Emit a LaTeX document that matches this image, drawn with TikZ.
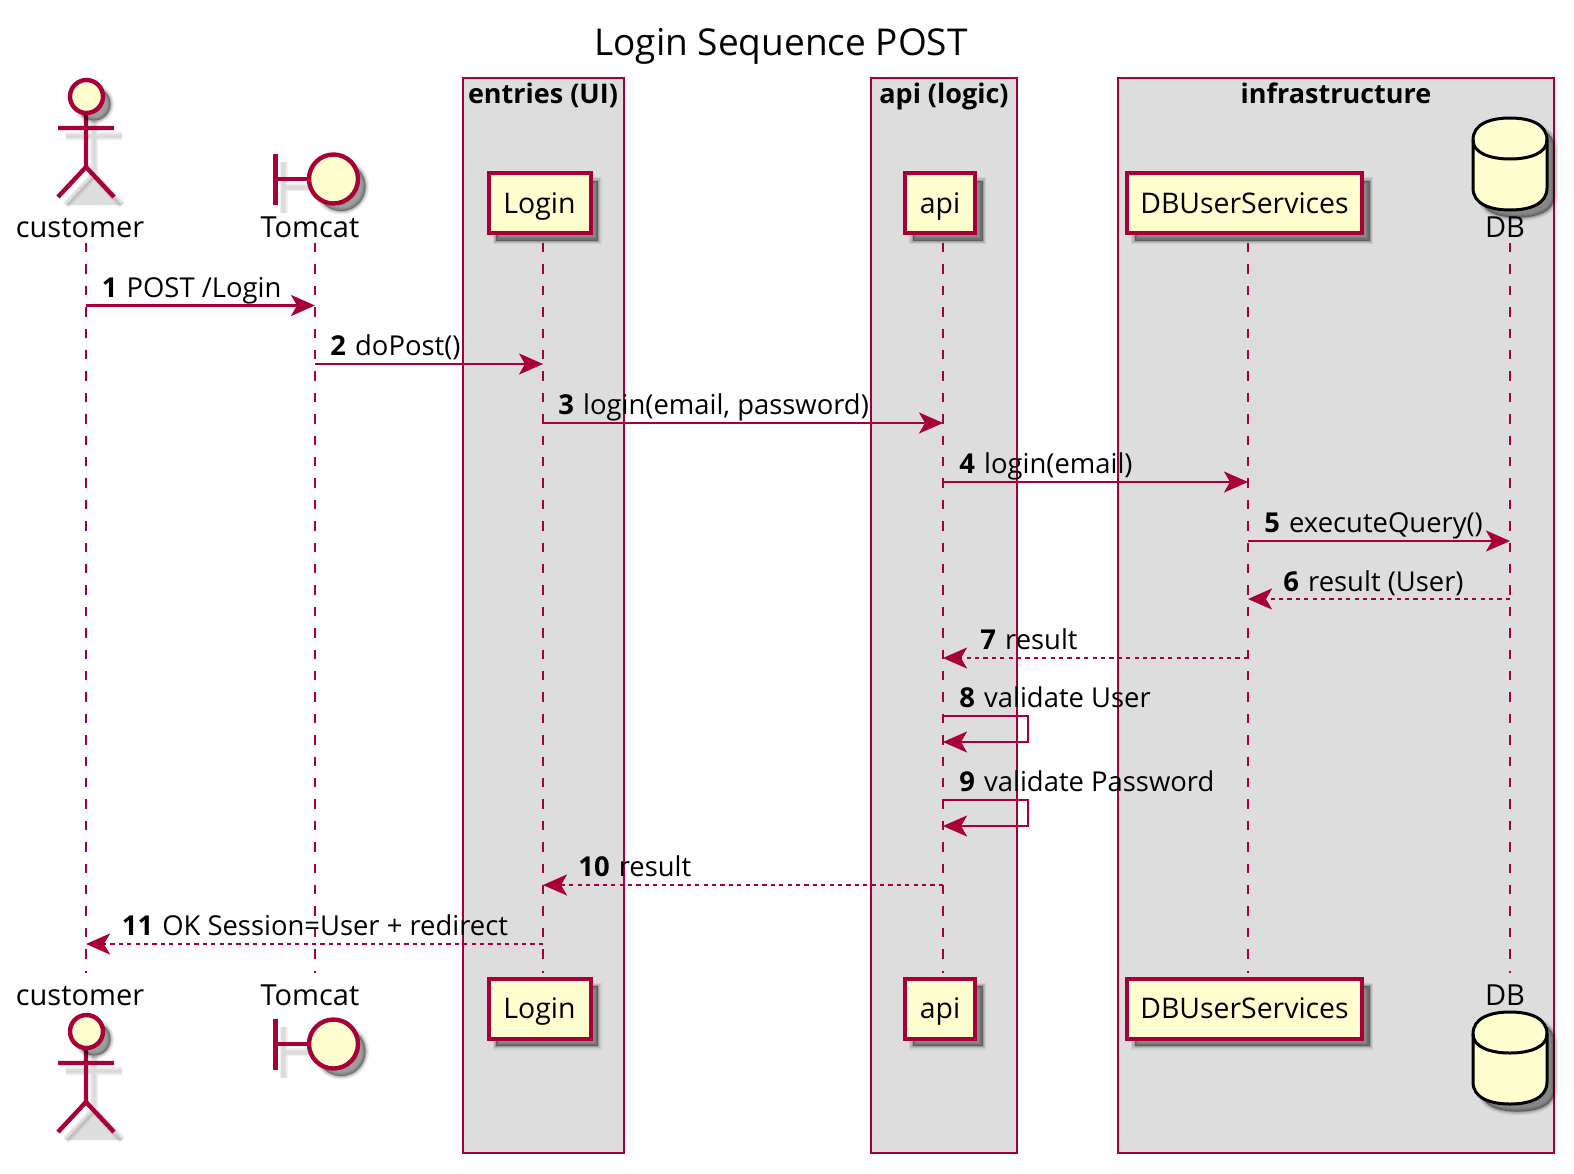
\documentclass[tikz,border=0pt]{standalone}
\usepackage{fontspec}
\setmainfont{Open Sans}
\usetikzlibrary{arrows.meta,shadows}
\definecolor{umlred}{HTML}{A80036}
\definecolor{umlfill}{HTML}{FEFECE}
\definecolor{groupfill}{HTML}{DDDDDD}
\begin{document}
\begin{tikzpicture}[
    x=0.5pt, y=-0.5pt,
    every node/.style={font=\fontsize{14.5}{16}\selectfont, inner sep=0pt},
    group/.style={draw=umlred, fill=groupfill, line width=1pt},
    grouplabel/.style={anchor=base, font=\fontsize{13.5}{16}\selectfont\bfseries},
    softbox/.style={
        copy shadow={shadow xshift=3.8pt, shadow yshift=-3.8pt, fill=black, draw=black, opacity=.07, line width=3.5pt},
        copy shadow={shadow xshift=3.8pt, shadow yshift=-3.8pt, fill=black, draw=black, opacity=.1, line width=2.2pt},
        copy shadow={shadow xshift=3.8pt, shadow yshift=-3.8pt, fill=black, draw=black, opacity=.14, line width=1pt},
        copy shadow={shadow xshift=3.8pt, shadow yshift=-3.8pt, fill=black, draw=none, opacity=.14}},
    softline/.style={
        copy shadow={shadow xshift=4pt, shadow yshift=-4pt, draw=black, opacity=.06, line width=4pt},
        copy shadow={shadow xshift=4pt, shadow yshift=-4pt, draw=black, opacity=.08, line width=2.5pt}},
    part/.style={draw=umlred, fill=umlfill, line width=2pt, minimum height=30pt, text height=10pt, text depth=0pt, font=\fontsize{14.2}{16}\selectfont, softbox},
    partname/.style={anchor=base},
    figure/.style={draw=umlred, line width=2.2pt},
    life/.style={draw=umlred, line width=1pt, dash pattern=on 4.7pt off 6pt},
    msg/.style={draw=umlred, line width=1.2pt, -{Stealth[length=12pt, width=10.5pt, inset=3pt]}},
    ret/.style={msg, dash pattern=on 2.1pt off 2.1pt},
    msglabel/.style={anchor=base west, font=\fontsize{13.7}{16}\selectfont}
]
\useasboundingbox (0,0) rectangle (1574,1173);

% groups
\draw[group] (463,78) rectangle (624,1153);
\draw[group] (871,78) rectangle (1017,1153);
\draw[group] (1118,78) rectangle (1554,1153);
\node[grouplabel] (groupEntries) at (543,103) {entries (UI)};
\node[grouplabel] (groupApi) at (944,103) {api (logic)};
\node[grouplabel] (groupInfra) at (1336,103) {infrastructure};
\node[anchor=base, font=\fontsize{18.5}{20}\selectfont] (title) at (781,55) {Login Sequence POST};

% lifelines
\foreach \nm/\xpos in {customer/86,tomcat/315,login/543,apil/943,dbus/1248,db/1510} {
    \coordinate (\nm Top) at (\xpos,243);
    \coordinate (\nm Bot) at (\xpos,973);
    \draw[life] (\nm Top) -- (\nm Bot);
}

% participants
\foreach \yoff in {0,935} {
    \begin{scope}[shift={(0,\yoff)}]
    \draw[figure, softline] (86,113) -- (86,167) (58,128) -- (114,128) (58,197) -- (86,167) -- (114,197);
    \draw[figure, fill=umlfill, softbox] (86.5,96.5) ellipse (16.5 and 16.5);
    \end{scope}
}
\foreach \yoff in {0,865} {
    \begin{scope}[shift={(0,\yoff)}]
    \draw[figure, softline] (275.5,153.5) -- (275.5,204.5) (275.5,179) -- (309,179);
    \draw[figure, fill=umlfill, softbox] (333.5,179) ellipse (24.5 and 24.5);
    \end{scope}
}
\foreach \yoff in {0,894} {
    \begin{scope}[shift={(0,\yoff)}]
    \draw[black, line width=1.5pt, fill=umlfill, softbox] (1473,140) .. controls (1473,124) and (1490,118) .. (1510,118)
        .. controls (1530,118) and (1547,124) .. (1547,140) -- (1547,188)
        .. controls (1547,204) and (1530,210) .. (1510,210)
        .. controls (1490,210) and (1473,204) .. (1473,188) -- cycle;
    \draw[black, line width=1.5pt] (1473,140) .. controls (1473,153) and (1490,159) .. (1510,159)
        .. controls (1530,159) and (1547,153) .. (1547,140);
    \end{scope}
}
\node[partname] (customerName) at (80,237) {customer};
\node[partname] (tomcatName) at (310,237) {Tomcat};
\node[partname] (dbName) at (1505,237) {DB};
\node[partname] (customerNameB) at (80,1005) {customer};
\node[partname] (tomcatNameB) at (310,1005) {Tomcat};
\node[partname] (dbNameB) at (1505,1005) {DB};
\node[part, minimum width=51pt] (loginBox) at (539.5,203) {Login};
\node[part, minimum width=35pt] (apiBox) at (940,203) {api};
\node[part, minimum width=117.5pt] (dbusBox) at (1244.5,203) {DBUserServices};
\node[part, minimum width=51pt] (loginBoxB) at (539.5,1008.5) {Login};
\node[part, minimum width=35pt] (apiBoxB) at (940,1008.5) {api};
\node[part, minimum width=117.5pt] (dbusBoxB) at (1244.5,1008.5) {DBUserServices};

% messages
\coordinate (m1) at (0,305.5);
\coordinate (m2) at (0,364);
\coordinate (m3) at (0,423);
\coordinate (m4) at (0,482);
\coordinate (m5) at (0,541);
\coordinate (m6) at (0,599);
\coordinate (m7) at (0,658);
\coordinate (m8) at (0,716);
\coordinate (m8b) at (0,742);
\coordinate (m9) at (0,800);
\coordinate (m9b) at (0,826);
\coordinate (m10) at (0,885);
\coordinate (m11) at (0,944);
\coordinate (selfx) at (1028,0);
\draw[msg] (customerTop |- m1) -- (tomcatTop |- m1);
\draw[msg] (tomcatTop |- m2) -- (loginTop |- m2);
\draw[msg] (loginTop |- m3) -- (apilTop |- m3);
\draw[msg] (apilTop |- m4) -- (dbusTop |- m4);
\draw[msg] (dbusTop |- m5) -- (dbTop |- m5);
\draw[ret] (dbTop |- m6) -- (dbusTop |- m6);
\draw[ret] (dbusTop |- m7) -- (apilTop |- m7);
\draw[msg] (apilTop |- m8) -- (selfx |- m8) -- (selfx |- m8b) -- (apilTop |- m8b);
\draw[msg] (apilTop |- m9) -- (selfx |- m9) -- (selfx |- m9b) -- (apilTop |- m9b);
\draw[ret] (apilTop |- m10) -- (loginTop |- m10);
\draw[ret] (loginTop |- m11) -- (customerTop |- m11);
\node[msglabel] (lbl1) at (101.5,297) {\textbf{1}\kern1pt{} POST /Login};
\node[msglabel] (lbl2) at (330,355.5) {\textbf{2}\kern1pt{} doPost()};
\node[msglabel] (lbl3) at (558,414.5) {\textbf{3}\kern1pt{} login(email, password)};
\node[msglabel] (lbl4) at (959,473.5) {\textbf{4}\kern1pt{} login(email)};
\node[msglabel] (lbl5) at (1264,532.5) {\textbf{5}\kern1pt{} executeQuery()};
\node[msglabel] (lbl6) at (1283,591) {\textbf{6}\kern1pt{} result (User)};
\node[msglabel] (lbl7) at (980,649.5) {\textbf{7}\kern1pt{} result};
\node[msglabel] (lbl8) at (959,707.5) {\textbf{8}\kern1pt{} validate User};
\node[msglabel] (lbl9) at (959,791.5) {\textbf{9}\kern1pt{} validate Password};
\node[msglabel] (lbl10) at (578,876.5) {\textbf{10}\kern1pt{} result};
\node[msglabel] (lbl11) at (121.5,935.5) {\textbf{11}\kern1pt{} OK Session=User + redirect};
\end{tikzpicture}
\end{document}
